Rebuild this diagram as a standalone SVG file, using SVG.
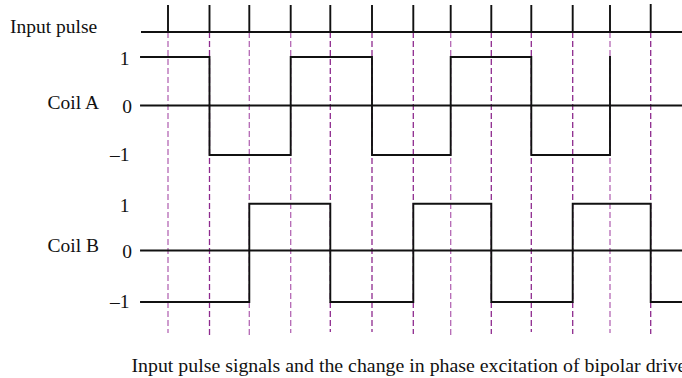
<svg xmlns="http://www.w3.org/2000/svg" width="682" height="378" viewBox="0 0 682 378">
<style>
text{font-family:"Liberation Serif","Times New Roman",serif;font-size:19.5px;fill:#111}
.num{text-anchor:end}
.cap{font-size:19.85px}
.w{fill:none;stroke:#111;stroke-width:1.9;stroke-linejoin:miter;stroke-linecap:square}
.d{stroke-width:1.3;stroke-dasharray:6 3;fill:none}
.dl{stroke:#b468b4}
.dd{stroke:#8e2a8e}
</style>
<rect width="682" height="378" fill="#fff"/>
<g id="guides">
<line class="d dl" x1="168" y1="32" x2="168" y2="333"/>
<line class="d dd" x1="209.5" y1="32" x2="209.5" y2="335"/>
<line class="d dl" x1="249.3" y1="32" x2="249.3" y2="335"/>
<line class="d dl" x1="290.7" y1="32" x2="290.7" y2="333"/>
<line class="d dd" x1="330.3" y1="32" x2="330.3" y2="332"/>
<line class="d dd" x1="372" y1="32" x2="372" y2="332"/>
<line class="d dd" x1="413.3" y1="32" x2="413.3" y2="334"/>
<line class="d dl" x1="450.7" y1="32" x2="450.7" y2="336"/>
<line class="d dd" x1="491.3" y1="32" x2="491.3" y2="334"/>
<line class="d dd" x1="531.3" y1="32" x2="531.3" y2="332"/>
<line class="d dd" x1="572.7" y1="32" x2="572.7" y2="334"/>
<line class="d dl" x1="610" y1="32" x2="610" y2="333"/>
<line class="d dd" x1="650.7" y1="32" x2="650.7" y2="334"/>
</g>
<g id="input-pulse">
<text x="10" y="32.5">Input pulse</text>
<path class="w" d="M141,32 H682 M168,5 V32 M209.5,5 V32 M249.3,5 V32 M290.7,5 V32 M330.3,5 V32 M372,5 V32 M413.3,5 V32 M450.7,5 V32 M491.3,5 V32 M531.3,5 V32 M572.7,5 V32 M610,5 V32 M650.7,4 V32" style="stroke-linecap:butt"/>
</g>
<g id="coil-a">
<text x="47.5" y="109">Coil A</text>
<text class="num" x="129.5" y="65">1</text>
<text class="num" x="132" y="112.5">0</text>
<text class="num" x="129.5" y="160.5">–1</text>
<path class="w" d="M141,105.5 H682"/>
<path class="w" d="M141,57 H209.5 V155 H290.7 V57 H372 V155 H450.7 V57 H531.3 V155 H610 V57"/>
</g>
<g id="coil-b">
<text x="47.5" y="252">Coil B</text>
<text class="num" x="129.5" y="212">1</text>
<text class="num" x="132" y="258">0</text>
<text class="num" x="129.5" y="308">–1</text>
<path class="w" d="M141,250.5 H682"/>
<path class="w" d="M141,302 H249.3 V203.7 H330.3 V302 H413.3 V203.7 H491.3 V302 H572.7 V203.7 H650.7 V302 H682"/>
</g>
<g id="caption">
<text class="cap" x="131.5" y="371.5">Input pulse signals and the change in phase excitation of bipolar drive</text>
</g>
</svg>
